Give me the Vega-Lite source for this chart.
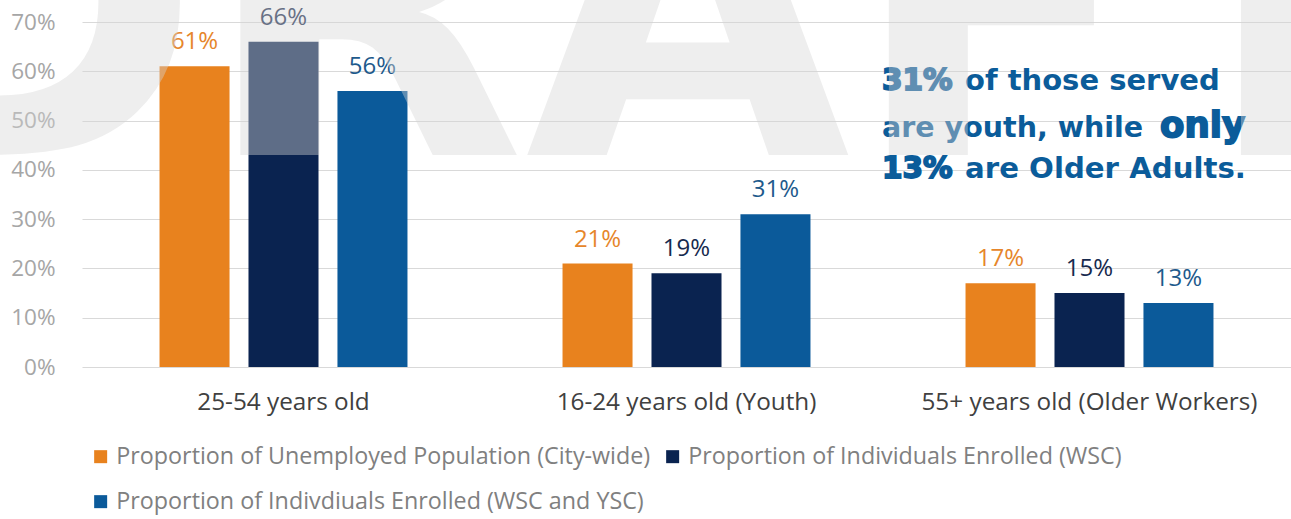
{
  "$schema": "https://vega.github.io/schema/vega-lite/v6.json",
  "width": 1209,
  "height": 345,
  "autosize": {"type": "none"},
  "padding": {"left": 82, "top": 22, "right": 0, "bottom": 152},
  "background": "white",
  "config": {"view": {"stroke": null}, "font": "Open Sans"},
  "datasets": {
    "bars": [
      {"age": "25-54 years old", "series": "Proportion of Unemployed Population (City-wide)", "value": 0.61},
      {"age": "25-54 years old", "series": "Proportion of Individuals Enrolled (WSC)", "value": 0.66},
      {"age": "25-54 years old", "series": "Proportion of Indivdiuals Enrolled (WSC and YSC)", "value": 0.56},
      {"age": "16-24 years old (Youth)", "series": "Proportion of Unemployed Population (City-wide)", "value": 0.21},
      {"age": "16-24 years old (Youth)", "series": "Proportion of Individuals Enrolled (WSC)", "value": 0.19},
      {"age": "16-24 years old (Youth)", "series": "Proportion of Indivdiuals Enrolled (WSC and YSC)", "value": 0.31},
      {"age": "55+ years old (Older Workers)", "series": "Proportion of Unemployed Population (City-wide)", "value": 0.17},
      {"age": "55+ years old (Older Workers)", "series": "Proportion of Individuals Enrolled (WSC)", "value": 0.15},
      {"age": "55+ years old (Older Workers)", "series": "Proportion of Indivdiuals Enrolled (WSC and YSC)", "value": 0.13}
    ]
  },
  "resolve": {"scale": {"color": "independent"}},
  "layer": [
    {
      "data": {"name": "bars"},
      "mark": {"type": "bar"},
      "encoding": {
        "x": {
          "field": "age", "type": "nominal",
          "sort": ["25-54 years old", "16-24 years old (Youth)", "55+ years old (Older Workers)"],
          "scale": {"paddingInner": 0.3375, "paddingOuter": 0.16875},
          "axis": {"title": null, "labelAngle": 0, "labelFontSize": 24.3, "labelColor": "#404040", "domain": false, "ticks": false, "labelPadding": 23, "labelLimit": 0}
        },
        "xOffset": {
          "field": "series", "type": "nominal",
          "sort": ["Proportion of Unemployed Population (City-wide)", "Proportion of Individuals Enrolled (WSC)", "Proportion of Indivdiuals Enrolled (WSC and YSC)"],
          "scale": {"paddingInner": 0.213, "paddingOuter": 0.107}
        },
        "y": {
          "field": "value", "type": "quantitative",
          "scale": {"domain": [0, 0.7], "nice": false},
          "axis": {"title": null, "format": ".0%", "values": [0, 0.1, 0.2, 0.3, 0.4, 0.5, 0.6, 0.7], "domain": false, "ticks": false, "labelPadding": 27, "labelFontSize": 22.5, "labelColor": "#a6a6a6", "gridColor": "#d9d9d9", "gridWidth": 1}
        },
        "color": {
          "field": "series", "type": "nominal",
          "scale": {
            "domain": ["Proportion of Unemployed Population (City-wide)", "Proportion of Individuals Enrolled (WSC)", "Proportion of Indivdiuals Enrolled (WSC and YSC)"],
            "range": ["#E8821E", "#0A2350", "#0B5A9A"]
          },
          "legend": {
            "orient": "none", "legendX": 7, "legendY": 423, "columns": 2, "direction": "horizontal",
            "title": null, "symbolType": "square", "symbolSize": 169, "symbolStrokeWidth": 0,
            "labelFontSize": 23.3, "labelColor": "#808080", "labelLimit": 0, "labelOffset": 4,
            "columnPadding": 10, "rowPadding": 21
          }
        }
      }
    },
    {
      "data": {"name": "bars"},
      "mark": {"type": "text", "baseline": "alphabetic", "dy": -17, "fontSize": 24},
      "encoding": {
        "x": {"field": "age", "type": "nominal", "sort": ["25-54 years old", "16-24 years old (Youth)", "55+ years old (Older Workers)"]},
        "xOffset": {"field": "series", "type": "nominal", "sort": ["Proportion of Unemployed Population (City-wide)", "Proportion of Individuals Enrolled (WSC)", "Proportion of Indivdiuals Enrolled (WSC and YSC)"]},
        "y": {"field": "value", "type": "quantitative"},
        "text": {"field": "value", "type": "quantitative", "format": ".0%"},
        "color": {
          "field": "series", "type": "nominal",
          "scale": {
            "domain": ["Proportion of Unemployed Population (City-wide)", "Proportion of Individuals Enrolled (WSC)", "Proportion of Indivdiuals Enrolled (WSC and YSC)"],
            "range": ["#E6862B", "#172A4E", "#1E5A8C"]
          },
          "legend": null
        }
      }
    },
    {
      "data": {"values": [{"note": "31%"}]},
      "mark": {"type": "text", "align": "left", "baseline": "alphabetic", "font": "DejaVu Sans", "fontWeight": "bold", "fontSize": 29.5, "color": "#0B5C9A", "stroke": "#0B5C9A", "strokeWidth": 1.8},
      "encoding": {
        "x": {"datum": "55+ years old (Older Workers)", "bandPosition": -0.277},
        "y": {"datum": 0.562},
        "text": {"field": "note"}
      }
    },
    {
      "data": {"values": [{"note": "of those served"}]},
      "mark": {"type": "text", "align": "left", "baseline": "alphabetic", "dx": 83, "font": "DejaVu Sans", "fontWeight": "bold", "fontSize": 29, "color": "#0B5C9A"},
      "encoding": {
        "x": {"datum": "55+ years old (Older Workers)", "bandPosition": -0.277},
        "y": {"datum": 0.562},
        "text": {"field": "note"}
      }
    },
    {
      "data": {"values": [{"note": "are youth, while"}]},
      "mark": {"type": "text", "align": "left", "baseline": "alphabetic", "font": "DejaVu Sans", "fontWeight": "bold", "fontSize": 28.5, "color": "#0B5C9A"},
      "encoding": {
        "x": {"datum": "55+ years old (Older Workers)", "bandPosition": -0.277},
        "y": {"datum": 0.4665},
        "text": {"field": "note"}
      }
    },
    {
      "data": {"values": [{"note": "only"}]},
      "mark": {"type": "text", "align": "left", "baseline": "alphabetic", "dx": 278, "font": "DejaVu Sans", "fontWeight": "bold", "fontSize": 35.5, "color": "#0B5C9A", "stroke": "#0B5C9A", "strokeWidth": 1.8},
      "encoding": {
        "x": {"datum": "55+ years old (Older Workers)", "bandPosition": -0.277},
        "y": {"datum": 0.4665},
        "text": {"field": "note"}
      }
    },
    {
      "data": {"values": [{"note": "13%"}]},
      "mark": {"type": "text", "align": "left", "baseline": "alphabetic", "font": "DejaVu Sans", "fontWeight": "bold", "fontSize": 29.5, "color": "#0B5C9A", "stroke": "#0B5C9A", "strokeWidth": 1.8},
      "encoding": {
        "x": {"datum": "55+ years old (Older Workers)", "bandPosition": -0.277},
        "y": {"datum": 0.383},
        "text": {"field": "note"}
      }
    },
    {
      "data": {"values": [{"note": "are Older Adults."}]},
      "mark": {"type": "text", "align": "left", "baseline": "alphabetic", "dx": 83, "font": "DejaVu Sans", "fontWeight": "bold", "fontSize": 29.2, "color": "#0B5C9A"},
      "encoding": {
        "x": {"datum": "55+ years old (Older Workers)", "bandPosition": -0.277},
        "y": {"datum": 0.383},
        "text": {"field": "note"}
      }
    },
    {
      "data": {"values": [{"mark": "DRAFT"}]},
      "mark": {"type": "text", "align": "center", "baseline": "alphabetic", "font": "DejaVu Sans", "fontWeight": "bold", "fontSize": 420, "color": "#d6d6d6", "opacity": 0.41},
      "encoding": {
        "x": {"datum": "16-24 years old (Youth)", "bandPosition": 0.32},
        "y": {"datum": 0.43},
        "text": {"field": "mark"}
      }
    }
  ]
}
